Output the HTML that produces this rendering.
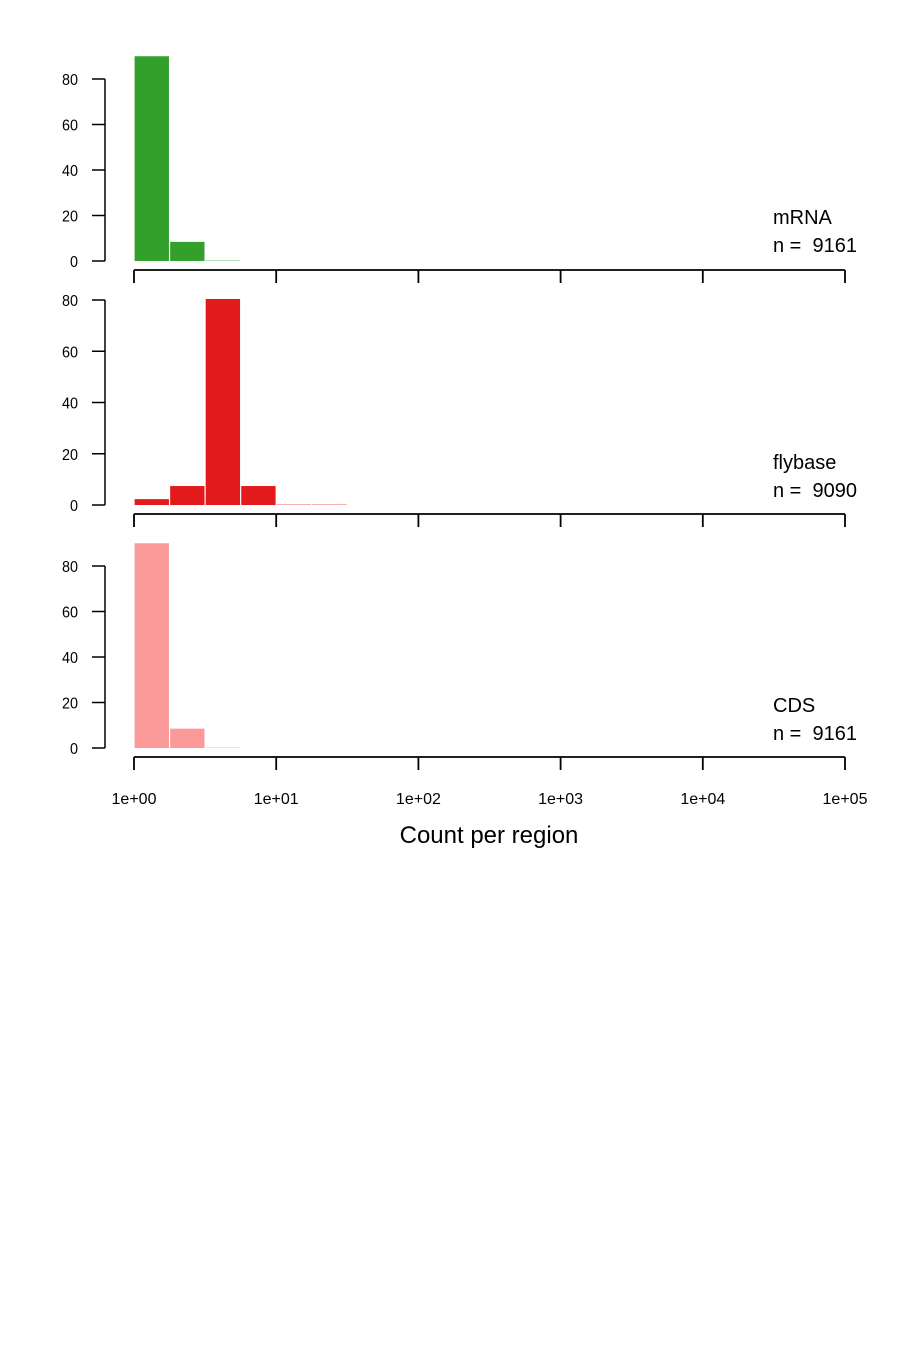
<!DOCTYPE html>
<html><head><meta charset="utf-8"><style>
body{margin:0;background:#fff}
svg{display:block}
text{font-family:"Liberation Sans",sans-serif;fill:#000;white-space:pre}
</style></head><body>
<svg id="chart" width="900" height="1350"></svg>
<script>
const binStarts=[0,0.25,0.5,0.75,1,1.25];
const mrnaValues=[90,8.4,0.3];
const flybaseValues=[2.3,7.4,80.4,7.4,0.4,0.4];
const cdsValues=[90,8.5,0.2];
const panelLabels=["mRNA","flybase","CDS"];
const panelCounts=["9161","9090","9161"];
const yTicks=[0,20,40,60,80];
const xTicks=[0,1,2,3,4,5];
const xTickLabels=["1e+00","1e+01","1e+02","1e+03","1e+04","1e+05"];
const binWidth=0.25;

const svg=document.getElementById('chart');
const NS='http://www.w3.org/2000/svg';
function mk(tag,attrs,parent){const e=document.createElementNS(NS,tag);for(const k in attrs)e.setAttribute(k,attrs[k]);(parent||svg).appendChild(e);return e;}
const xScale=v=>134+v*142.2;
const panels=[
 {vals:mrnaValues,color:"#33a02c",y0:261,y80:79,axisY:270,labY:217,name:"mrna"},
 {vals:flybaseValues,color:"#e31a1c",y0:505,y80:300,axisY:514,labY:462,name:"flybase"},
 {vals:cdsValues,color:"#fb9a99",y0:748,y80:566,axisY:757,labY:705,name:"cds"}
];
function condensed(t,x,y){t.setAttribute('transform','translate('+x+','+y+') scale(0.9,1)');}
panels.forEach((p,pi)=>{
 const g=mk('g',{});
 
 
 const yS=v=>p.y0-(p.y0-p.y80)*v/80;
 p.vals.forEach((v,i)=>{
  const x1=xScale(binStarts[i]),x2=xScale(binStarts[i]+binWidth);
  const h=Math.max(p.y0-yS(v),1);
  const r=mk('rect',{x:x1+0.6,y:p.y0-h,width:x2-x1-1.2,height:h,fill:p.color,'fill-opacity':v<1?0.35:1},g);
  
  
 });
 const ya=mk('g',{},g);
 
 
 mk('line',{x1:105,x2:105,y1:yS(0),y2:yS(80),stroke:'#000','stroke-width':1.5},ya);
 yTicks.forEach(t=>{
  mk('line',{x1:92,x2:105,y1:yS(t),y2:yS(t),stroke:'#000','stroke-width':1.5},ya);
  const tx=mk('text',{'text-anchor':'end','font-size':16},ya);tx.textContent=t;
  condensed(tx,78,yS(t)+6);
 });
 const xa=mk('g',{},g);
 
 
 mk('line',{x1:xScale(0),x2:xScale(5),y1:p.axisY,y2:p.axisY,stroke:'#000','stroke-width':1.8},xa);
 xTicks.forEach((t,i)=>{
  mk('line',{x1:xScale(t),x2:xScale(t),y1:p.axisY,y2:p.axisY+13,stroke:'#000','stroke-width':1.8},xa);
  if(pi===2){const tx=mk('text',{x:xScale(t),y:804,'text-anchor':'middle','font-size':16},xa);tx.textContent=xTickLabels[i];}
 });
 const l1=mk('text',{x:773,y:p.labY+7,'font-size':20},g);l1.textContent=panelLabels[pi];
 
 
 const l2=mk('text',{x:773,y:p.labY+35,'font-size':20},g);l2.textContent='n =\u00a0 '+panelCounts[pi];
 
 
});
const xt=mk('text',{x:489,y:843,'text-anchor':'middle','font-size':24});xt.textContent='Count per region';


</script>
</body></html>
